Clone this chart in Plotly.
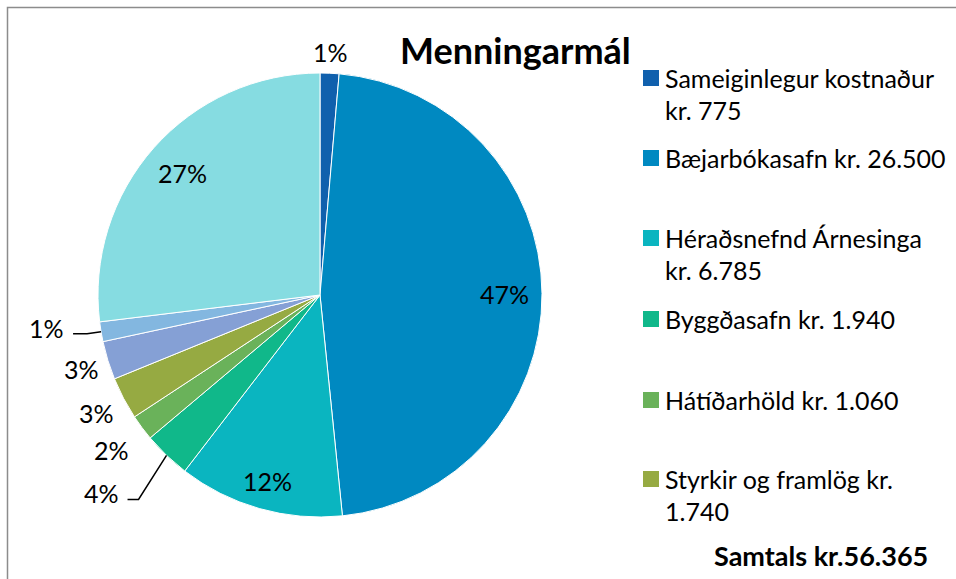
import math
import plotly.graph_objects as go

# ---- data ----
categories = [
    "Sameiginlegur kostnaður", "Bæjarbókasafn", "Héraðsnefnd Árnesinga",
    "Byggðasafn", "Hátíðarhöld", "Styrkir og framlög",
    "Annað (a)", "Annað (b)", "Annað (c)",
]
values = [775, 26500, 6785, 1940, 1060, 1740, 1575, 810, 15180]
pct_labels = ["1%", "47%", "12%", "4%", "2%", "3%", "3%", "1%", "27%"]
legend_texts = [
    ["Sameiginlegur kostnaður", "kr. 775"],
    ["Bæjarbókasafn kr. 26.500"],
    ["Héraðsnefnd Árnesinga", "kr. 6.785"],
    ["Byggðasafn kr. 1.940"],
    ["Hátíðarhöld kr. 1.060"],
    ["Styrkir og framlög kr.", "1.740"],
]
title_text = "Menningarmál"
total_text = "Samtals kr.56.365"

# ---- styles ----
colors = ["#1060AD", "#0089C1", "#0AB5C0", "#10B88A", "#6AB25A",
          "#96AA42", "#85A0D5", "#83B7E0", "#86DCE1"]
# label radius (fraction of R) for each slice; None -> label with leader line
label_k = [1.095, 0.83, 0.87, None, 1.17, 1.14, 1.125, None, 0.83]
# leader geometry: (elbow dx, elbow dy, tail dx)
leaders = {3: (-28, 44, -11), 7: (-14, 2, -14)}

FONT = "Lato, sans-serif"
W, H = 956, 579
CX, CY, R = 320, 295, 222


def px(x):
    return x / W


def py(y):
    return 1 - y / H


fig = go.Figure()
fig.add_trace(go.Pie(
    labels=categories, values=values,
    textinfo="none", hoverinfo="label+value+percent",
    sort=False, direction="clockwise", rotation=0,
    marker=dict(colors=colors, line=dict(color="white", width=1)),
    showlegend=False,
    domain=dict(x=[px(CX - R), px(CX + R)], y=[py(CY + R), py(CY - R)]),
))

annotations = []
shapes = []

# percentage labels, placed from the cumulative slice angles
total = sum(values)
cum = 0.0
for i, v in enumerate(values):
    mid = (cum + v / 2) / total * 2 * math.pi
    cum += v
    sx, sy = math.sin(mid), -math.cos(mid)
    if label_k[i] is not None:
        k = label_k[i]
        annotations.append(dict(
            text=pct_labels[i], x=px(CX + k * R * sx), y=py(CY + k * R * sy),
            xref="paper", yref="paper", showarrow=False,
            font=dict(family=FONT, size=25, color="black"),
            xanchor="center", yanchor="middle"))
    else:
        ex, ey = CX + R * sx, CY + R * sy
        edx, edy, tdx = leaders[i]
        bx, by = ex + edx, ey + edy
        tx = bx + tdx
        shapes.append(dict(type="path", xref="paper", yref="paper",
                           path=f"M {px(ex)} {py(ey)} L {px(bx)} {py(by)} L {px(tx)} {py(by)}",
                           line=dict(color="black", width=1.5)))
        annotations.append(dict(
            text=pct_labels[i], x=px(tx - 7), y=py(by - 6),
            xref="paper", yref="paper", showarrow=False,
            font=dict(family=FONT, size=25, color="black"),
            xanchor="right", yanchor="middle"))

annotations.append(dict(text="<b>" + title_text + "</b>", x=px(515), y=py(50),
                        xref="paper", yref="paper", showarrow=False,
                        font=dict(family=FONT, size=36, color="black"),
                        xanchor="center", yanchor="middle"))
annotations.append(dict(text="<b>" + total_text + "</b>", x=px(930), y=py(555),
                        xref="paper", yref="paper", showarrow=False,
                        font=dict(family=FONT, size=27, color="black"),
                        xanchor="right", yanchor="middle"))

# manual legend (only the visible entries)
item_y = [78, 158, 238, 319, 400, 479]
for i, lines in enumerate(legend_texts):
    yc = item_y[i]
    shapes.append(dict(type="rect", xref="paper", yref="paper",
                       x0=px(643), x1=px(659), y0=py(yc + 8), y1=py(yc - 8),
                       fillcolor=colors[i], line=dict(width=0)))
    for j, ln in enumerate(lines):
        annotations.append(dict(text=ln, x=px(663), y=py(yc + 32 * j),
                                xref="paper", yref="paper", showarrow=False,
                                font=dict(family=FONT, size=25, color="black"),
                                xanchor="left", yanchor="middle"))

# chart frame
shapes.append(dict(type="path", xref="paper", yref="paper",
                   path=f"M {px(7.5)} {py(600)} L {px(7.5)} {py(7.5)} L {px(1000)} {py(7.5)}",
                   line=dict(color="#8C8C8C", width=1.5)))

fig.update_layout(
    width=W, height=H,
    margin=dict(l=0, r=0, t=0, b=0),
    paper_bgcolor="white", plot_bgcolor="white",
    annotations=annotations, shapes=shapes,
    font=dict(family=FONT),
)
fig.write_html("out.html", config={"displayModeBar": False},
               post_script="document.body.style.margin='0';document.body.style.overflow='hidden';")
